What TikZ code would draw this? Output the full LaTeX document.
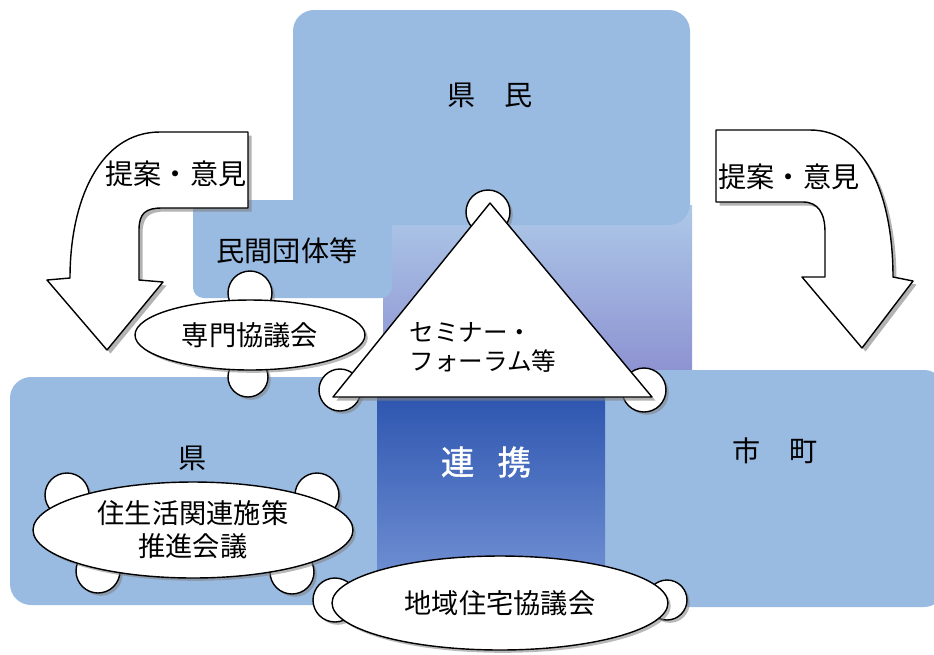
\documentclass[tikz,border=0pt]{standalone}
\usepackage{fontspec}
\newfontfamily\cjk{Noto Sans CJK JP}
\newfontfamily\cjkbold[FakeBold=1.2]{Noto Sans CJK JP}
\usepackage{tikz}
\usetikzlibrary{calc}
\usetikzlibrary{shapes.geometric}
\usetikzlibrary{shadows}
\definecolor{boxblue}{RGB}{153,187,226}
\definecolor{lavender}{RGB}{136,138,206}
\definecolor{linkblue}{RGB}{46,86,176}
\definecolor{linklight}{RGB}{120,150,215}
\tikzset{
	panel/.style={fill=boxblue,draw=none,rounded corners=12pt},
	word/.style={font=\cjk\fontsize{16}{19}\selectfont,text=black},
	tablesh/.style={drop shadow={shadow xshift=1.6pt,shadow yshift=-1.6pt,opacity=0.55}},
	table/.style={ellipse,draw=black,thick,fill=white,inner sep=0pt,tablesh,
		font=\cjk\fontsize{15.5}{19}\selectfont,align=center},
	chair/.style={draw=black,thick,fill=white,tablesh},
	bigarrow/.style={draw=black,thick,fill=white,line join=round,
		drop shadow={shadow xshift=2pt,shadow yshift=-2pt,opacity=0.6}}
}

\begin{document}
\begin{tikzpicture}[x=0.02cm,y=-0.02cm]
			\useasboundingbox (0,0) rectangle (934,654);
			%blue panels
			\shade[top color=boxblue!80!white,bottom color=lavender] (383,205) rectangle (692,398);
			\fill[panel] (293,10) rectangle (690,225);
			\fill[panel,rounded corners=6pt] (193,200) rectangle (392,298);
			\fill[panel] (10,377) rectangle (390,605);
			\fill[panel] (598,370) rectangle (945,607);
			\shade[top color=linkblue,bottom color=linklight] (377,396) rectangle (605,600);
			%feedback arrows
			\path[bigarrow] (248,132) -- (160,132) .. controls (100,132) and (70,200) .. (70,278)
				-- (47,280) -- (107,350) -- (163,282) -- (139,280) -- (139,230)
				.. controls (139,213) and (146,208) .. (162,208) -- (248,208) -- cycle;
			\path[bigarrow] (716,130) -- (810,130) .. controls (868,130) and (893,200) .. (893,277)
				-- (913,281) -- (862,348) -- (802,277) -- (825,277) -- (825,232)
				.. controls (825,213) and (818,202) .. (803,202) -- (716,202) -- cycle;
			%tables and chairs
			\path[chair] (250,293) circle (22);
			\path[chair] (248,377) circle (20);
			\node[table,minimum width=4.6cm,minimum height=1.4cm] (senmon) at (250,335) {専門協議会};
			\path[chair] (67,495) circle (22);
			\path[chair] (317,495) circle (22);
			\path[chair] (98,571) circle (22);
			\path[chair] (292,572) circle (22);
			\node[table,minimum width=6.4cm,minimum height=1.92cm] (jyuseikatsu) at (193,530) {住生活関連施策\\推進会議};
			\path[chair] (335,600) circle (22);
			\path[chair] (667,600) circle (20);
			\node[table,minimum width=6.72cm,minimum height=1.88cm] (chiiki) at (500,603) {地域住宅協議会};
			%seminar triangle
			\path[chair] (488,212) circle (22);
			\path[chair] (340,390) circle (21);
			\path[chair] (644,390) circle (22);
			\path[bigarrow] (490,203) -- (333,397) -- (652,397) -- cycle;
			\node[font=\cjk\fontsize{14}{16.5}\selectfont,align=left] (seminar) at (483,347) {セミナー・\\フォーラム等};
			%labels
			\node[word] (kenmin) at (490,95) {県　民};
			\node[word] (minkan) at (287,251) {民間団体等};
			\node[word] (ken) at (193,458) {県};
			\node[word] (shicho) at (775,451) {市　町};
			\node[word] (teian1) at (176,174) {提案・意見};
			\node[word] (teian2) at (789,177) {提案・意見};
			\node[font=\cjkbold\fontsize{19}{22}\selectfont,text=white] (renkei) at (486,462) {連\hspace{0.7em}携};
		\end{tikzpicture}
\end{document}
